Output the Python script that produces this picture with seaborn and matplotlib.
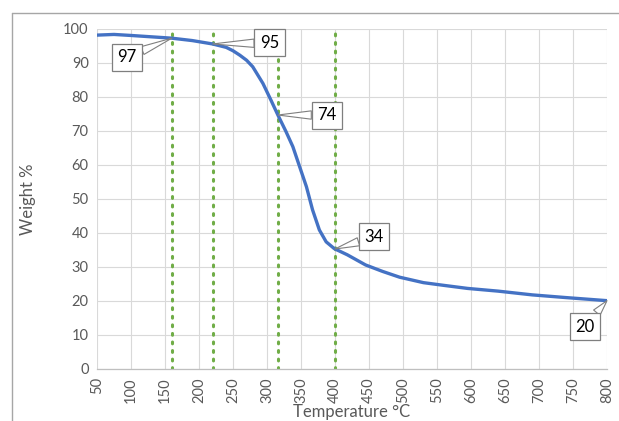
import matplotlib
matplotlib.use("Agg")
import matplotlib.pyplot as plt
from matplotlib.lines import Line2D
import seaborn as sns
import pandas as pd

# TGA curve
temps = [50, 75, 100, 130, 160, 190, 220, 240, 250, 260, 270, 279, 294, 306,
         316, 328, 338, 348, 358, 367, 377, 387, 399, 418, 445, 470, 495, 530,
         560, 595, 640, 690, 740, 800]
weights = [98.2, 98.4, 98.1, 97.7, 97.3, 96.6, 95.6, 94.6, 93.6, 92.3, 90.8,
           88.9, 84.0, 79.0, 74.7, 69.8, 65.4, 59.5, 53.6, 46.8, 40.9, 37.4,
           35.4, 33.6, 30.6, 28.7, 27.0, 25.4, 24.6, 23.7, 22.9, 21.8, 21.0,
           20.1]

# marker lines and callouts
marker_temps = [160, 220, 316, 400]
label_temps = [160, 220, 316, 400, 800]
label_points = [97.3, 95.6, 74.7, 35.3, 20.1]
label_text = ["97", "95", "74", "34", "20"]

x_ticks = list(range(50, 801, 50))
y_ticks = list(range(0, 101, 10))

df = pd.DataFrame({"Temperature": temps, "Weight": weights})

sns.set_style("white")
plt.rcParams["font.family"] = ["Lato", "DejaVu Sans"]

fig = plt.figure(figsize=(6.19, 4.21), dpi=100)
ax = fig.add_axes([97 / 619, 1 - 369 / 421, 510 / 619, 340 / 421])

# cropped chart frame
fig.add_artist(Line2D([12 / 619, 12 / 619], [0, 1 - 13 / 421],
                      transform=fig.transFigure, color="#A6A6A6", lw=1))
fig.add_artist(Line2D([12 / 619, 1], [1 - 13 / 421, 1 - 13 / 421],
                      transform=fig.transFigure, color="#A6A6A6", lw=1))

ax.set_xlim(50, 800)
ax.set_ylim(0, 100)
ax.set_xticks(x_ticks)
ax.set_yticks(y_ticks)
ax.grid(True, color="#D9D9D9", lw=0.8)
ax.set_axisbelow(True)
for side in ["top", "right", "left"]:
    ax.spines[side].set_visible(False)
ax.spines["bottom"].set_color("#BFBFBF")
ax.spines["bottom"].set_linewidth(0.9)

for t in marker_temps:
    ax.axvline(t, color="#70AD47", lw=2.2, ls=(0, (0.6, 2.2)),
               dash_capstyle="round", zorder=2)

sns.lineplot(data=df, x="Temperature", y="Weight", ax=ax, color="#4472C4",
             lw=2.4, zorder=3)

offsets = [(-45, -19), (57, 1), (49, 0), (39, 12), (-22, -26)]
for t, v, s, off in zip(label_temps, label_points, label_text, offsets):
    ax.annotate(s, xy=(t, v), xytext=off, textcoords="offset pixels",
                ha="center", va="center", fontsize=12, color="black",
                bbox=dict(boxstyle="square,pad=0.33", fc="white",
                          ec="#7F7F7F", lw=0.9),
                arrowprops=dict(arrowstyle="wedge,tail_width=0.5",
                                fc="white", ec="#7F7F7F", lw=0.8,
                                shrinkA=0, shrinkB=0),
                annotation_clip=False, zorder=5)

ax.tick_params(axis="both", length=0, labelsize=10.5, labelcolor="#595959",
               pad=6)
ax.tick_params(axis="x", labelrotation=90)

ax.set_xlabel("Temperature \u00b0C", fontsize=12, color="#595959")
ax.set_ylabel("Weight %", fontsize=12, color="#595959")
ax.xaxis.set_label_coords(0.5, -0.125)
ax.yaxis.set_label_coords(-0.135, 0.5)
ax.xaxis.label.set_va("center")
ax.yaxis.label.set_va("center")

fig.savefig("out.png", dpi=100)
